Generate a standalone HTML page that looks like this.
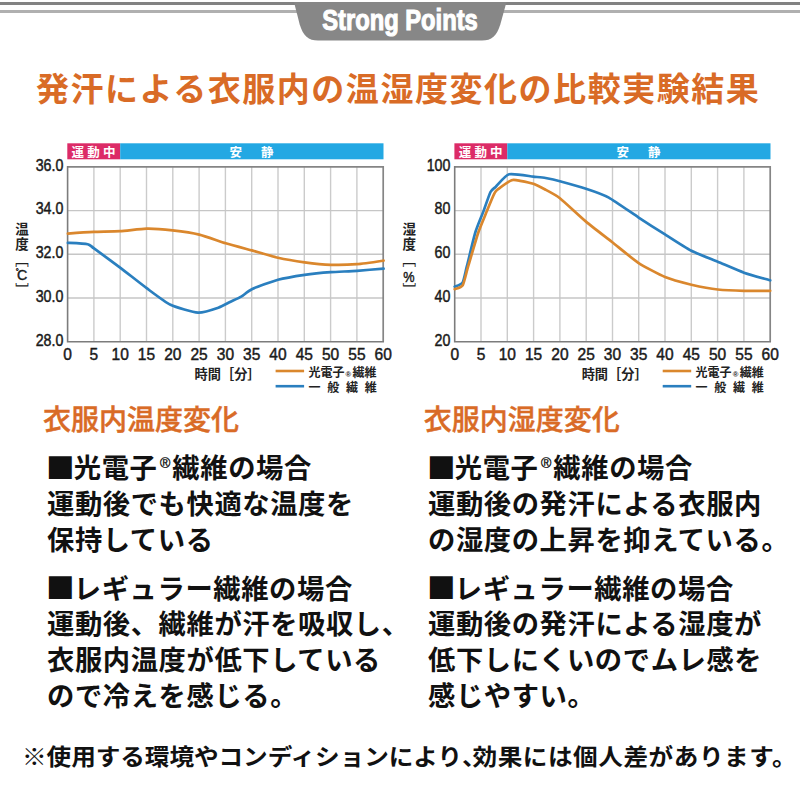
<!DOCTYPE html>
<html lang="ja">
<head>
<meta charset="utf-8">
<style>
html,body{margin:0;padding:0;background:#fff;}
body{width:800px;height:800px;position:relative;overflow:hidden;font-family:"Liberation Sans","Noto Sans CJK JP",sans-serif;}
.abs{position:absolute;white-space:nowrap;}
.title{left:36px;top:65.5px;font-size:33px;letter-spacing:1.54px;line-height:48px;font-weight:700;color:#d96b26;}
.sub{font-size:28px;line-height:36px;font-weight:500;color:#d96b26;-webkit-text-stroke:0.45px #d96b26;}
.txt{font-size:27.3px;line-height:35.8px;letter-spacing:0.6px;font-weight:700;color:#111;}
.foot{left:22px;top:739px;font-size:22.8px;line-height:36px;font-weight:700;color:#111;transform:scaleX(1.08);transform-origin:0 0;letter-spacing:-0.05px;}
.tc{letter-spacing:-13.1px;}
.fb{letter-spacing:0.5px;}
.reg{font-size:14px;position:relative;top:-10.5px;line-height:0;font-weight:400;-webkit-text-stroke:0.35px #111;letter-spacing:0;margin:0 2px 0 2.5px;}
.sq{font-family:"Noto Sans CJK JP",sans-serif;font-size:28.6px;line-height:0;letter-spacing:0;margin:0 -0.8px 0 -1px;position:relative;top:0.5px;}
svg{position:absolute;left:0;top:0;}
svg .cj{font-family:"Liberation Sans","Noto Sans CJK JP",sans-serif;fill:#222;}
svg .wt{fill:#fff;}
svg .num{font-family:"Liberation Sans",sans-serif;fill:#1a1a1a;stroke:#1a1a1a;stroke-width:0.45;}
</style>
</head>
<body>
<svg width="800" height="400" viewBox="0 0 800 400">
  <rect x="0" y="2" width="800" height="3" fill="#828282"/>
  <rect x="0" y="10" width="800" height="3" fill="#b0b0b0"/>
  <path d="M294 2 L506.5 2 L500.3 24.5 C497 35.5 491.5 40.6 482 40.6 L318 40.6 C308.5 40.6 303 35.5 299.7 24.5 Z" fill="#878787"/>
  <text x="400" y="30.4" text-anchor="middle" font-family="Liberation Sans, sans-serif" font-weight="700" font-size="29" fill="#fff" stroke="#fff" stroke-width="1.1" textLength="197" lengthAdjust="spacingAndGlyphs" transform="translate(400 0) scale(0.79 1) translate(-400 0)">Strong Points</text>
<rect x="67.3" y="143.3" width="52.9" height="16" fill="#dc2b67"/>
<rect x="120.2" y="143.3" width="263.3" height="16" fill="#23a8e3"/>
<text x="71.6" y="156.6" font-size="12.5" font-weight="700" letter-spacing="3.2" class="cj wt">運動中</text>
<text x="235.7" y="156.6" font-size="12.5" font-weight="700" text-anchor="middle" class="cj wt">安</text>
<text x="267.3" y="156.6" font-size="12.5" font-weight="700" text-anchor="middle" class="cj wt">静</text>
<line x1="93.9" y1="166.9" x2="93.9" y2="341.7" stroke="#cbcbcb" stroke-width="1.4"/>
<line x1="120.2" y1="166.9" x2="120.2" y2="341.7" stroke="#cbcbcb" stroke-width="1.4"/>
<line x1="146.5" y1="166.9" x2="146.5" y2="341.7" stroke="#cbcbcb" stroke-width="1.4"/>
<line x1="172.8" y1="166.9" x2="172.8" y2="341.7" stroke="#cbcbcb" stroke-width="1.4"/>
<line x1="199.1" y1="166.9" x2="199.1" y2="341.7" stroke="#cbcbcb" stroke-width="1.4"/>
<line x1="225.4" y1="166.9" x2="225.4" y2="341.7" stroke="#cbcbcb" stroke-width="1.4"/>
<line x1="251.7" y1="166.9" x2="251.7" y2="341.7" stroke="#cbcbcb" stroke-width="1.4"/>
<line x1="278.0" y1="166.9" x2="278.0" y2="341.7" stroke="#cbcbcb" stroke-width="1.4"/>
<line x1="304.3" y1="166.9" x2="304.3" y2="341.7" stroke="#cbcbcb" stroke-width="1.4"/>
<line x1="330.6" y1="166.9" x2="330.6" y2="341.7" stroke="#cbcbcb" stroke-width="1.4"/>
<line x1="356.9" y1="166.9" x2="356.9" y2="341.7" stroke="#cbcbcb" stroke-width="1.4"/>
<line x1="67.6" y1="210.6" x2="383.2" y2="210.6" stroke="#c6c6c6" stroke-width="1.4"/>
<line x1="67.6" y1="254.3" x2="383.2" y2="254.3" stroke="#c6c6c6" stroke-width="1.4"/>
<line x1="67.6" y1="298.0" x2="383.2" y2="298.0" stroke="#c6c6c6" stroke-width="1.4"/>
<path d="M67.6 166.9 H383.2 V341.7" fill="none" stroke="#858585" stroke-width="1.7"/>
<path d="M67.6 166.1 V341.7 H384.0" fill="none" stroke="#7c7c7c" stroke-width="1.6"/>
<text transform="translate(63.3 170.7) scale(0.9 1)" font-size="15.8" text-anchor="end" class="num">36.0</text>
<text transform="translate(63.3 214.4) scale(0.9 1)" font-size="15.8" text-anchor="end" class="num">34.0</text>
<text transform="translate(63.3 258.1) scale(0.9 1)" font-size="15.8" text-anchor="end" class="num">32.0</text>
<text transform="translate(63.3 301.8) scale(0.9 1)" font-size="15.8" text-anchor="end" class="num">30.0</text>
<text transform="translate(63.3 345.5) scale(0.9 1)" font-size="15.8" text-anchor="end" class="num">28.0</text>
<text transform="translate(67.6 360.3) scale(0.96 1)" font-size="16.2" text-anchor="middle" class="num">0</text>
<text transform="translate(93.9 360.3) scale(0.96 1)" font-size="16.2" text-anchor="middle" class="num">5</text>
<text transform="translate(120.2 360.3) scale(0.96 1)" font-size="16.2" text-anchor="middle" class="num">10</text>
<text transform="translate(146.5 360.3) scale(0.96 1)" font-size="16.2" text-anchor="middle" class="num">15</text>
<text transform="translate(172.8 360.3) scale(0.96 1)" font-size="16.2" text-anchor="middle" class="num">20</text>
<text transform="translate(199.1 360.3) scale(0.96 1)" font-size="16.2" text-anchor="middle" class="num">25</text>
<text transform="translate(225.4 360.3) scale(0.96 1)" font-size="16.2" text-anchor="middle" class="num">30</text>
<text transform="translate(251.7 360.3) scale(0.96 1)" font-size="16.2" text-anchor="middle" class="num">35</text>
<text transform="translate(278.0 360.3) scale(0.96 1)" font-size="16.2" text-anchor="middle" class="num">40</text>
<text transform="translate(304.3 360.3) scale(0.96 1)" font-size="16.2" text-anchor="middle" class="num">45</text>
<text transform="translate(330.6 360.3) scale(0.96 1)" font-size="16.2" text-anchor="middle" class="num">50</text>
<text transform="translate(356.9 360.3) scale(0.96 1)" font-size="16.2" text-anchor="middle" class="num">55</text>
<text transform="translate(383.2 360.3) scale(0.96 1)" font-size="16.2" text-anchor="middle" class="num">60</text>
<path d="M67.9 242.9 C69.9 243.0 85.1 243.6 87.7 244.2 C90.3 244.8 90.8 246.1 94.0 248.4 C97.2 250.7 114.8 263.6 120.1 267.6 C125.4 271.6 141.7 284.5 146.7 288.2 C151.7 291.9 165.4 302.4 170.5 304.8 C175.6 307.2 193.2 312.3 198.0 312.6 C202.8 312.9 215.1 308.8 218.3 307.7 C221.5 306.6 227.7 303.1 230.0 302.0 C232.3 300.9 239.0 298.0 241.2 296.7 C243.4 295.4 248.2 290.9 251.9 289.2 C255.6 287.5 272.7 281.1 278.0 279.7 C283.3 278.3 299.3 275.6 304.6 274.8 C309.9 274.1 325.7 272.6 330.9 272.2 C336.1 271.8 351.7 271.2 357.0 270.8 C362.3 270.4 380.9 268.8 383.6 268.6" fill="none" stroke="#2a7fbf" stroke-width="2.7" stroke-linejoin="round" stroke-linecap="round"/>
<path d="M67.9 233.6 C70.5 233.4 88.8 232.1 94.0 231.9 C99.2 231.7 114.8 231.5 120.1 231.2 C125.4 230.9 141.4 228.8 146.7 228.7 C151.9 228.6 167.3 229.8 172.6 230.4 C177.8 231.0 193.9 233.3 199.2 234.6 C204.5 235.9 220.4 241.7 225.7 243.3 C231.0 244.9 246.7 249.0 251.9 250.4 C257.1 251.8 272.7 256.6 278.0 257.8 C283.3 259.0 299.3 261.6 304.6 262.3 C309.9 263.0 325.7 264.6 330.9 264.8 C336.1 265.0 351.7 264.6 357.0 264.2 C362.3 263.8 380.9 261.0 383.6 260.6" fill="none" stroke="#da872d" stroke-width="2.7" stroke-linejoin="round" stroke-linecap="round"/>
<text x="22.1" y="233.8" font-size="13.5" font-weight="700" text-anchor="middle" class="cj">温</text>
<text x="22.1" y="248.8" font-size="13.5" font-weight="700" text-anchor="middle" class="cj">度</text>
<text x="22.1" y="264.6" font-size="13.5" font-weight="500" text-anchor="middle" class="cj">&#xFE47;</text>
<text class="num" font-size="14.2"><tspan x="15.8" y="274" font-size="7.5">°</tspan><tspan x="17.1" y="279.9">C</tspan></text>
<text x="22.1" y="294.6" font-size="13.5" font-weight="500" text-anchor="middle" class="cj">&#xFE48;</text>
<text x="194.6" y="379" font-size="13.2" font-weight="700" class="cj">時間［分］</text>
<line x1="275.6" y1="371" x2="304.1" y2="371" stroke="#da872d" stroke-width="2.6"/>
<line x1="275.6" y1="386.2" x2="304.1" y2="386.2" stroke="#2a7fbf" stroke-width="2.6"/>
<text x="308.4" y="376.6" font-size="12" font-weight="700" class="cj">光電子<tspan font-size="7.6" font-weight="700" dx="1.2" dy="0.6">®</tspan><tspan dx="1.3" dy="-0.6">繊維</tspan></text>
<text x="308.4" y="391.8" font-size="12" font-weight="700" class="cj" letter-spacing="6.75">一般繊維</text>
<rect x="454.4" y="143.3" width="52.9" height="16" fill="#dc2b67"/>
<rect x="507.3" y="143.3" width="263.2" height="16" fill="#23a8e3"/>
<text x="458.7" y="156.6" font-size="12.5" font-weight="700" letter-spacing="3.2" class="cj wt">運動中</text>
<text x="622.7" y="156.6" font-size="12.5" font-weight="700" text-anchor="middle" class="cj wt">安</text>
<text x="654.3" y="156.6" font-size="12.5" font-weight="700" text-anchor="middle" class="cj wt">静</text>
<line x1="481.0" y1="166.9" x2="481.0" y2="341.7" stroke="#cbcbcb" stroke-width="1.4"/>
<line x1="507.3" y1="166.9" x2="507.3" y2="341.7" stroke="#cbcbcb" stroke-width="1.4"/>
<line x1="533.6" y1="166.9" x2="533.6" y2="341.7" stroke="#cbcbcb" stroke-width="1.4"/>
<line x1="559.9" y1="166.9" x2="559.9" y2="341.7" stroke="#cbcbcb" stroke-width="1.4"/>
<line x1="586.2" y1="166.9" x2="586.2" y2="341.7" stroke="#cbcbcb" stroke-width="1.4"/>
<line x1="612.5" y1="166.9" x2="612.5" y2="341.7" stroke="#cbcbcb" stroke-width="1.4"/>
<line x1="638.7" y1="166.9" x2="638.7" y2="341.7" stroke="#cbcbcb" stroke-width="1.4"/>
<line x1="665.0" y1="166.9" x2="665.0" y2="341.7" stroke="#cbcbcb" stroke-width="1.4"/>
<line x1="691.3" y1="166.9" x2="691.3" y2="341.7" stroke="#cbcbcb" stroke-width="1.4"/>
<line x1="717.6" y1="166.9" x2="717.6" y2="341.7" stroke="#cbcbcb" stroke-width="1.4"/>
<line x1="743.9" y1="166.9" x2="743.9" y2="341.7" stroke="#cbcbcb" stroke-width="1.4"/>
<line x1="454.7" y1="210.6" x2="770.2" y2="210.6" stroke="#c6c6c6" stroke-width="1.4"/>
<line x1="454.7" y1="254.3" x2="770.2" y2="254.3" stroke="#c6c6c6" stroke-width="1.4"/>
<line x1="454.7" y1="298.0" x2="770.2" y2="298.0" stroke="#c6c6c6" stroke-width="1.4"/>
<path d="M454.7 166.9 H770.2 V341.7" fill="none" stroke="#858585" stroke-width="1.7"/>
<path d="M454.7 166.1 V341.7 H771.0" fill="none" stroke="#7c7c7c" stroke-width="1.6"/>
<text transform="translate(450.4 170.7) scale(0.9 1)" font-size="15.8" text-anchor="end" class="num">100</text>
<text transform="translate(450.4 214.4) scale(0.9 1)" font-size="15.8" text-anchor="end" class="num">80</text>
<text transform="translate(450.4 258.1) scale(0.9 1)" font-size="15.8" text-anchor="end" class="num">60</text>
<text transform="translate(450.4 301.8) scale(0.9 1)" font-size="15.8" text-anchor="end" class="num">40</text>
<text transform="translate(450.4 345.5) scale(0.9 1)" font-size="15.8" text-anchor="end" class="num">20</text>
<text transform="translate(454.7 360.3) scale(0.96 1)" font-size="16.2" text-anchor="middle" class="num">0</text>
<text transform="translate(481.0 360.3) scale(0.96 1)" font-size="16.2" text-anchor="middle" class="num">5</text>
<text transform="translate(507.3 360.3) scale(0.96 1)" font-size="16.2" text-anchor="middle" class="num">10</text>
<text transform="translate(533.6 360.3) scale(0.96 1)" font-size="16.2" text-anchor="middle" class="num">15</text>
<text transform="translate(559.9 360.3) scale(0.96 1)" font-size="16.2" text-anchor="middle" class="num">20</text>
<text transform="translate(586.2 360.3) scale(0.96 1)" font-size="16.2" text-anchor="middle" class="num">25</text>
<text transform="translate(612.5 360.3) scale(0.96 1)" font-size="16.2" text-anchor="middle" class="num">30</text>
<text transform="translate(638.7 360.3) scale(0.96 1)" font-size="16.2" text-anchor="middle" class="num">35</text>
<text transform="translate(665.0 360.3) scale(0.96 1)" font-size="16.2" text-anchor="middle" class="num">40</text>
<text transform="translate(691.3 360.3) scale(0.96 1)" font-size="16.2" text-anchor="middle" class="num">45</text>
<text transform="translate(717.6 360.3) scale(0.96 1)" font-size="16.2" text-anchor="middle" class="num">50</text>
<text transform="translate(743.9 360.3) scale(0.96 1)" font-size="16.2" text-anchor="middle" class="num">55</text>
<text transform="translate(770.2 360.3) scale(0.96 1)" font-size="16.2" text-anchor="middle" class="num">60</text>
<path d="M454.7 286.7 C455.5 286.3 461.5 284.4 462.7 282.3 C463.9 280.2 465.6 271.2 466.9 266.2 C468.2 261.2 473.6 238.1 475.3 232.5 C477.0 226.9 482.2 214.7 483.7 210.6 C485.2 206.5 489.3 194.4 490.5 192.0 C491.7 189.6 493.7 188.7 495.6 186.9 C497.5 185.1 505.3 175.3 509.1 174.3 C512.9 173.3 529.6 176.2 533.3 176.6 C536.9 177.0 542.9 177.5 545.6 178.0 C548.3 178.5 555.9 180.1 559.9 181.2 C563.9 182.3 581.1 187.1 586.0 188.7 C590.9 190.3 603.6 194.7 608.8 197.6 C614.0 200.5 632.7 213.6 638.3 217.3 C643.9 221.0 659.7 231.1 665.0 234.4 C670.3 237.8 686.1 248.1 691.4 250.8 C696.7 253.5 712.4 259.5 717.7 261.7 C723.0 263.9 738.8 270.8 744.0 272.7 C749.2 274.6 767.6 279.5 770.2 280.3" fill="none" stroke="#2a7fbf" stroke-width="2.7" stroke-linejoin="round" stroke-linecap="round"/>
<path d="M454.7 289.2 C455.5 288.8 461.3 287.6 462.7 285.3 C464.1 283.0 466.6 271.5 468.2 266.2 C469.8 260.9 476.4 238.1 478.3 232.5 C480.2 226.9 485.5 214.6 487.1 210.6 C488.7 206.6 493.5 195.0 494.7 192.8 C495.9 190.6 497.2 189.9 498.9 188.6 C500.6 187.3 509.5 181.0 511.6 180.2 C513.7 179.4 517.9 180.4 520.1 180.8 C522.3 181.2 530.8 182.9 533.3 183.8 C535.8 184.7 542.9 188.3 545.6 189.7 C548.3 191.1 555.9 195.0 559.9 198.2 C563.9 201.4 580.8 217.2 586.0 221.6 C591.2 226.0 606.8 237.9 612.0 242.0 C617.2 246.1 633.0 259.3 638.3 262.8 C643.6 266.3 659.7 274.8 665.0 277.0 C670.3 279.2 686.1 283.4 691.4 284.7 C696.7 285.9 712.4 288.9 717.7 289.5 C723.0 290.1 738.8 290.7 744.0 290.8 C749.2 290.9 767.6 290.8 770.2 290.8" fill="none" stroke="#da872d" stroke-width="2.7" stroke-linejoin="round" stroke-linecap="round"/>
<text x="409.2" y="233.8" font-size="13.5" font-weight="700" text-anchor="middle" class="cj">湿</text>
<text x="409.2" y="248.8" font-size="13.5" font-weight="700" text-anchor="middle" class="cj">度</text>
<text x="409.2" y="264.6" font-size="13.5" font-weight="500" text-anchor="middle" class="cj">&#xFE47;</text>
<text transform="translate(408.9 282.1) scale(0.82 1)" font-size="15.5" text-anchor="middle" class="num">%</text>
<text x="409.2" y="294.6" font-size="13.5" font-weight="500" text-anchor="middle" class="cj">&#xFE48;</text>
<text x="581.7" y="379" font-size="13.2" font-weight="700" class="cj">時間［分］</text>
<line x1="662.7" y1="371" x2="691.2" y2="371" stroke="#da872d" stroke-width="2.6"/>
<line x1="662.7" y1="386.2" x2="691.2" y2="386.2" stroke="#2a7fbf" stroke-width="2.6"/>
<text x="695.5" y="376.6" font-size="12" font-weight="700" class="cj">光電子<tspan font-size="7.6" font-weight="700" dx="1.2" dy="0.6">®</tspan><tspan dx="1.3" dy="-0.6">繊維</tspan></text>
<text x="695.5" y="391.8" font-size="12" font-weight="700" class="cj" letter-spacing="6.75">一般繊維</text>
</svg>
<div class="abs title">発汗による衣服内の温湿度変化の比較実験結果</div>
<div class="abs sub" style="left:43px;top:402.5px;">衣服内温度変化</div>
<div class="abs sub" style="left:423.7px;top:402.5px;">衣服内湿度変化</div>
<div class="abs txt" style="left:47px;top:451px;"><span class="sq">■</span>光電子<span class="reg">®</span>繊維の場合<br>運動後でも快適な温度を<br>保持している</div>
<div class="abs txt" style="left:47px;top:571.5px;"><span class="sq">■</span>レギュラー繊維の場合<br>運動後、繊維が汗を吸収し、<br>衣服内温度が低下している<br>ので冷えを感じる。</div>
<div class="abs txt" style="left:428px;top:451px;"><span class="sq">■</span>光電子<span class="reg">®</span>繊維の場合<br>運動後の発汗による衣服内<br>の湿度の上昇を抑えている。</div>
<div class="abs txt" style="left:428px;top:571.5px;"><span class="sq">■</span>レギュラー繊維の場合<br>運動後の発汗による湿度が<br>低下しにくいのでムレ感を<br>感じやすい。</div>
<div class="abs foot">※使用する環境やコンディションにより<span class="tc">、</span><span class="fb">効果には個人差があります。</span></div>
</body>
</html>
